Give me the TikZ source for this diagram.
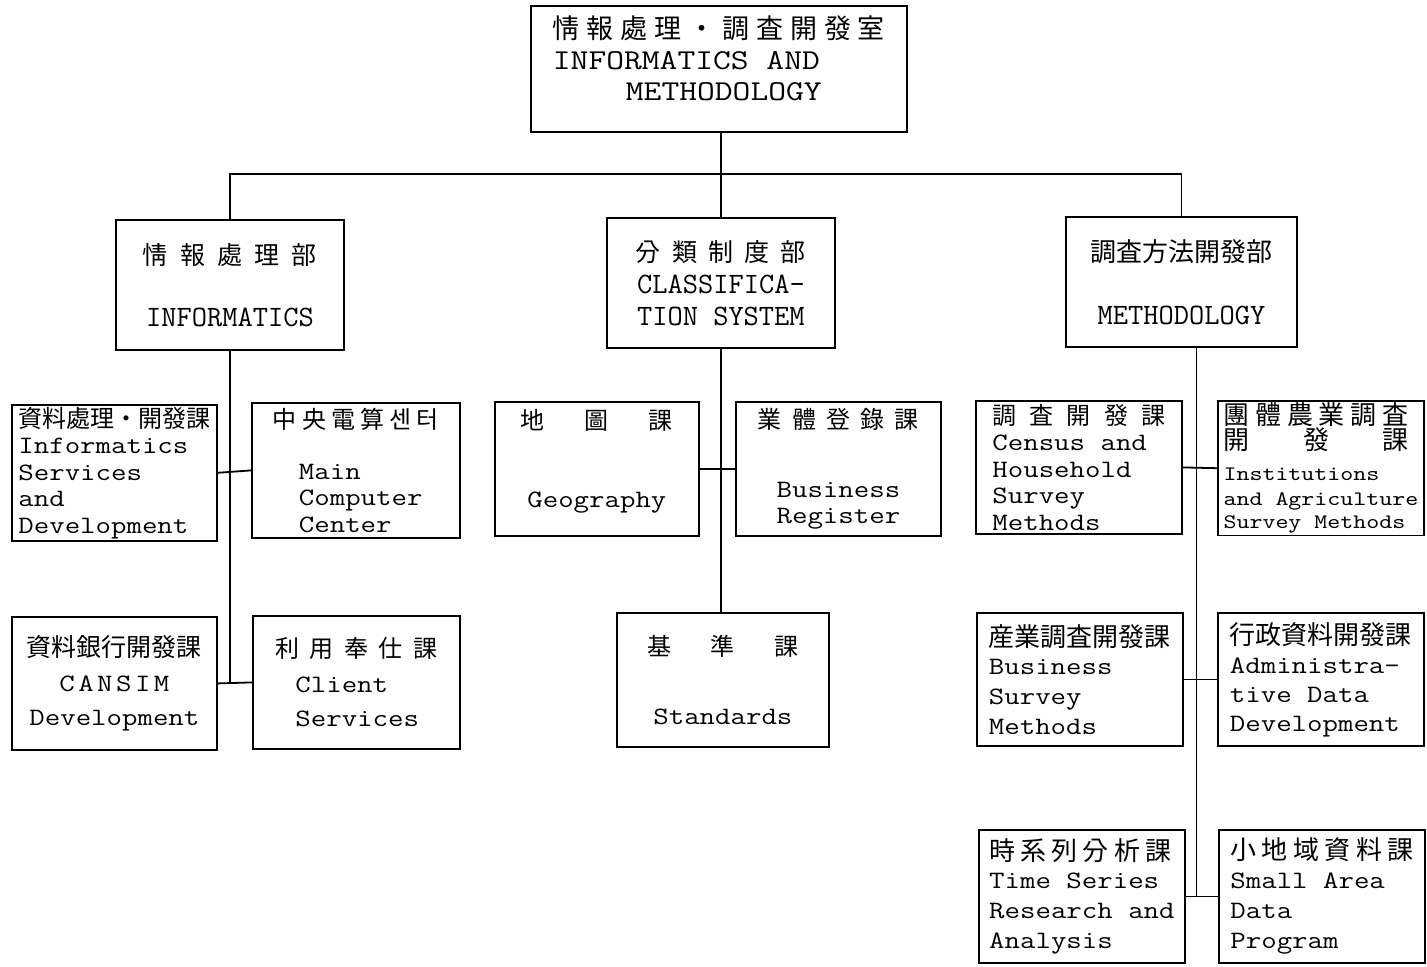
\documentclass[tikz,border=0pt]{standalone}
\usepackage{fontspec}
\setmainfont[FakeStretch=1.2]{Latin Modern Mono}
\newfontfamily\kr{Noto Sans CJK KR}
\newfontfamily\deptfont{Latin Modern Mono}
\newcommand{\hj}[1][12]{\kr\fontsize{#1}{13.25}\selectfont}
\newcommand{\spread}[2]{\makebox[#1][s]{#2}}
\begin{document}
\begin{tikzpicture}[x=0.5pt,y=-0.5pt,
        box/.style={draw,line width=0.9pt,anchor=north west,inner sep=1pt},
        leaf/.style={box,minimum width=103pt,minimum height=66.5pt,align=left,
            font=\fontsize{12.5}{13.25}\selectfont},
        dept/.style={box,minimum width=114pt,minimum height=65pt,align=center,
            font=\fontsize{14.8}{16}\selectfont\deptfont},
        link/.style={line width=0.9pt}]
    \useasboundingbox (0,0) rectangle (1427,966);
    % head office
    \node[box,minimum width=188pt,minimum height=63pt,align=left,
        font=\fontsize{14.4}{15.5}\selectfont] (top) at (530,5)
        {{\hj[13.5]\spread{166pt}{情\hfill 報\hfill 處\hfill 理\hfill ・\hfill 調\hfill 査\hfill 開\hfill 發\hfill 室}}\\
         INFORMATICS AND\\
         \hspace*{36.5pt}METHODOLOGY\\[-5pt] \mbox{}};
    % divisions
    \node[dept] (inf) at (115,219)
        {{\hj[12.5]\spread{87pt}{情\hfill 報\hfill 處\hfill 理\hfill 部}}\\[15pt] INFORMATICS};
    \node[dept] (cls) at (606,217)
        {{\hj[12.5]\spread{85pt}{分\hfill 類\hfill 制\hfill 度\hfill 部}}\\ CLASSIFICA-\\ TION SYSTEM};
    \node[dept,minimum width=115.5pt] (met) at (1065,216)
        {{\hj[13]調査方法開發部}\\[15.5pt] METHODOLOGY};
    % informatics
    \node[leaf,minimum width=102.5pt] (isd) at (11,404)
        {{\hj 資料處理・開發課}\\ Informatics\\ Services\\ and\\ Development};
    \node[leaf,minimum width=104pt,minimum height=67.5pt] (mcc) at (251,402)
        {{\hj\spread{83pt}{中\hfill 央\hfill 電\hfill 算\hfill 센\hfill 터}}\\[12pt]
         \hspace*{13pt}Main\\ \hspace*{13pt}Computer\\ \hspace*{13pt}Center};
    \node[leaf,minimum width=102.5pt,align=center] (cans) at (11,616)
        {{\hj[12.5]資料銀行開發課}\\[4pt]
         \spread{55pt}{C\hfill A\hfill N\hfill S\hfill I\hfill M}\\[4pt] Development};
    \node[leaf,minimum width=103.5pt] (cli) at (252,615)
        {{\hj\spread{81pt}{利\hfill 用\hfill 奉\hfill 仕\hfill 課}}\\[4pt]
         \hspace*{10pt}Client\\[4pt] \hspace*{10pt}Services};
    % classification
    \node[leaf,minimum width=102pt,minimum height=67pt,align=center] (geo) at (494,401)
        {{\hj\spread{76pt}{地\hfill 圖\hfill 課}}\\[26pt] Geography\\[-3pt] \mbox{}};
    \node[leaf,minimum width=102.5pt,minimum height=67pt,align=center] (reg) at (735,401)
        {{\hj\spread{80.5pt}{業\hfill 體\hfill 登\hfill 錄\hfill 課}}\\[21pt] Business\\ Register};
    \node[leaf,minimum width=106pt,minimum height=67pt,align=center] (std) at (616,612)
        {{\hj\spread{75.5pt}{基\hfill 準\hfill 課}}\\[21pt] Standards};
    % methodology
    \node[leaf] (cen) at (975,400)
        {{\hj\spread{86.5pt}{調\hfill 査\hfill 開\hfill 發\hfill 課}}\\
         Census and\\ Household\\ Survey\\ Methods};
    \node[leaf] (ins) at (1217,400)
        {{\hj[13]\spread{92.5pt}{團\hfill 體\hfill 農\hfill 業\hfill 調\hfill 査}}\\[-0.75pt]
         {\hj[13]\spread{92.5pt}{開\hfill 發\hfill 課}}\\[2.25pt]
         {\fontsize{10.3}{12}\selectfont Institutions}\\[-0.75pt]
         {\fontsize{10.3}{12}\selectfont and Agriculture}\\[-1.75pt]
         {\fontsize{10.3}{12}\selectfont Survey Methods}};
    \node[leaf] (bsm) at (976,612)
        {{\hj[13]産業調査開發課}\\[0.75pt] Business\\[1.75pt] Survey\\[1.75pt] Methods};
    \node[leaf] (adm) at (1217,612)
        {{\hj[13]行政資料開發課}\\[1.25pt] Administra-\\[1.25pt] tive Data\\[1.25pt] Development};
    \node[leaf] (tsr) at (978,829)
        {{\hj[13]\spread{91pt}{時\hfill 系\hfill 列\hfill 分\hfill 析\hfill 課}}\\[0.75pt]
         Time Series\\[1.75pt] Research and\\[1.75pt] Analysis};
    \node[leaf] (sma) at (1218,829)
        {{\hj[13]\spread{91.5pt}{小\hfill 地\hfill 域\hfill 資\hfill 料\hfill 課}}\\[1.25pt]
         Small Area\\[1.75pt] Data\\[1.75pt] Program};
    % connectors
    \coordinate (bus) at (720,174);
    \draw[link] (inf.north) |- (bus) -| (met.north);
    \draw[link] (cls.north) -- (cls.north |- top.south);
    \draw[link] (inf.south) -- (inf.south |- cli.west);
    \draw[link] (isd.east) -- (mcc.west);
    \draw[link] (cans.east) -- (cli.west);
    \draw[link] (cls.south) -- (cls.south |- std.north);
    \draw[link] (geo.east) -- (reg.west);
    \coordinate (spine) at ([xshift=7.5pt]met.south);
    \draw[link] (spine) -- (spine |- tsr.east);
    \draw[link] (cen.east) -- (ins.west);
    \draw[link] (bsm.east) -- (adm.west);
    \draw[link] (tsr.east) -- (sma.west);
\end{tikzpicture}
\end{document}
